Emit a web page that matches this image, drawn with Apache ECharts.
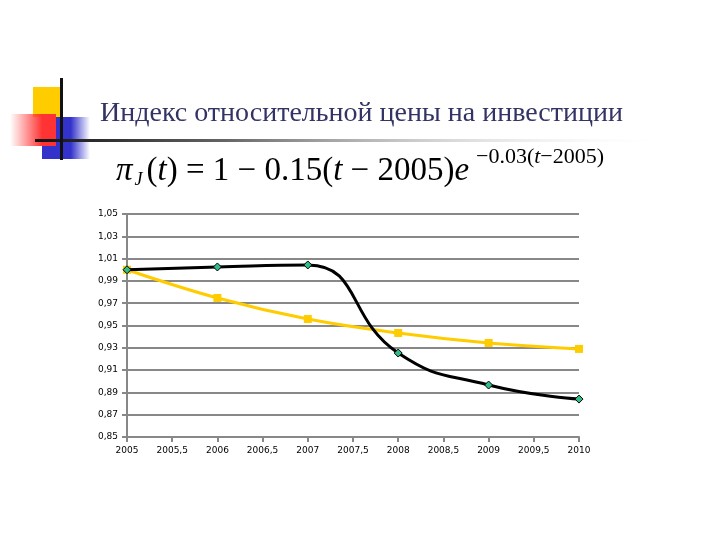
<!DOCTYPE html>
<html><head><meta charset="utf-8">
<script src="https://cdn.jsdelivr.net/npm/echarts@6/dist/echarts.min.js"></script>
<style>html,body{margin:0;padding:0;background:#fff}#c{width:720px;height:540px}</style>
</head><body><div id="c"></div>
<script>
const years = [2005, 2006, 2007, 2008, 2009, 2010];
const formulaValues = [1.0, 0.9747, 0.9558, 0.9433, 0.9343, 0.929];
const actualValues = [1.0, 1.0025, 1.0043, 0.9253, 0.8966, 0.884];
const titleText = 'Индекс относительной цены на инвестиции';

const chart = echarts.init(document.getElementById('c'));
const serif = '"Liberation Serif","DejaVu Serif",serif';
chart.setOption({
  animation: false,
  backgroundColor: '#fff',
  graphic: [
    {type:'rect', shape:{x:33,y:87,width:30,height:30}, style:{fill:'#ffcc00'}, z:1},
    {type:'rect', shape:{x:42,y:117,width:48,height:42}, style:{fill:new echarts.graphic.LinearGradient(0,0,1,0,[{offset:0,color:'#3333cc'},{offset:0.6,color:'#3333cc'},{offset:1,color:'rgba(51,51,204,0)'}])}, z:2},
    {type:'rect', shape:{x:10,y:114,width:46,height:32}, style:{fill:new echarts.graphic.LinearGradient(0,0,1,0,[{offset:0,color:'rgba(255,60,60,0)'},{offset:0.7,color:'#ff3333'},{offset:1,color:'#ff3333'}])}, z:3},
    {type:'rect', shape:{x:60,y:78,width:3,height:82}, style:{fill:'#111'}, z:5},
    {type:'rect', shape:{x:35,y:139,width:640,height:3}, style:{fill:new echarts.graphic.LinearGradient(0,0,1,0,[{offset:0,color:'#111'},{offset:0.3,color:'#666'},{offset:1,color:'rgba(255,255,255,0)'}])}, z:4},
    {type:'text', left:100, top:100, style:{text:titleText, font:'28px '+serif, fill:'#333366'}, z:6},
    {type:'text', left:116, top:155, style:{
      text:'{g|π}{s|J}{n|(}{i|t}{n|) = 1 − 0.15(}{i|t}{n| − 2005)}{i|e}',
      rich:{
        g:{font:'italic 33px '+serif, fill:'#000'},
        s:{font:'italic 18px '+serif, fill:'#000', padding:[18,4,0,2]},
        n:{font:'33px '+serif, fill:'#000'},
        i:{font:'italic 33px '+serif, fill:'#000'}
      }}, z:6},
    {type:'text', left:476, top:146, style:{
      text:'{n|−0.03(}{i|t}{n|−2005)}',
      rich:{n:{font:'22px '+serif, fill:'#000'}, i:{font:'italic 22px '+serif, fill:'#000'}}}, z:6}
  ],
  grid: {left:127, right:141, top:214, bottom:103},
  xAxis: {
    type:'value', min:2005, max:2010, interval:0.5,
    axisLine:{show:true, lineStyle:{color:'#888', width:2}},
    axisTick:{show:true, length:5, lineStyle:{color:'#888', width:2}},
    splitLine:{show:false},
    axisLabel:{color:'#000', fontSize:9, fontFamily:'"DejaVu Sans",sans-serif', margin:9,
      formatter: v => String(v).replace('.', ',')}
  },
  yAxis: {
    type:'value', min:0.85, max:1.05, interval:0.02,
    axisLine:{show:true, lineStyle:{color:'#888', width:2}},
    axisTick:{show:true, length:5, lineStyle:{color:'#888', width:2}},
    splitLine:{show:true, lineStyle:{color:'#888', width:2}},
    axisLabel:{color:'#000', fontSize:9, fontFamily:'"DejaVu Sans",sans-serif', margin:9,
      formatter: v => v.toFixed(2).replace('.', ',')}
  },
  series: [
    {type:'line', data: years.map((y,i)=>[y, formulaValues[i]]), smooth:0.4,
     lineStyle:{color:'#ffcc00', width:3}, itemStyle:{color:'#ffcc00'},
     symbol:'rect', symbolSize:8, z:3},
    {type:'line', data: years.map((y,i)=>[y, actualValues[i]]), smooth:0.5,
     lineStyle:{color:'#000', width:3}, itemStyle:{color:'#33bb88', borderColor:'#000', borderWidth:1},
     symbol:'diamond', symbolSize:8, z:4}
  ]
});
</script></body></html>
